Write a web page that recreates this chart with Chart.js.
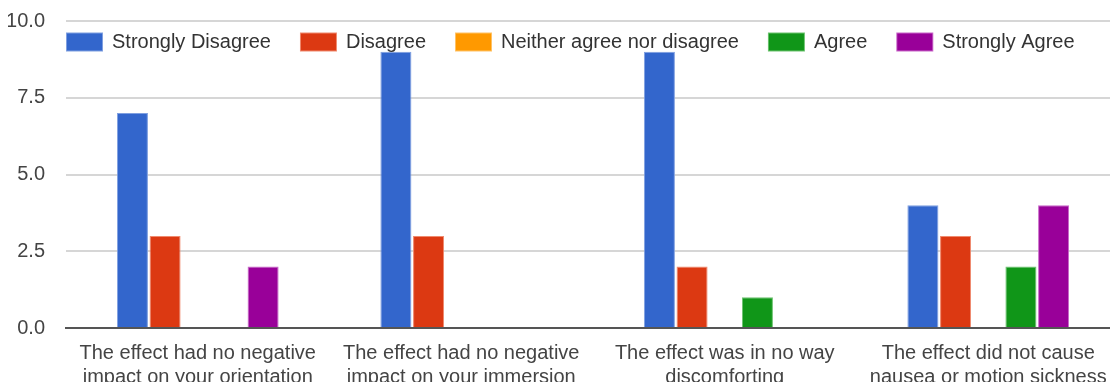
<!DOCTYPE html>
<html>
<head>
<meta charset="utf-8">
<script src="https://cdn.jsdelivr.net/npm/chart.js@4"></script>
<style>
  html, body { margin: 0; padding: 0; background: #fff; overflow: hidden; }
  #wrap { width: 1110px; height: 382px; overflow: hidden; position: relative; }
  canvas { display: block; }
</style>
</head>
<body>
<div id="wrap"><canvas id="c" width="1120" height="420"></canvas></div>
<script>
// Survey statements (x axis), two lines each
const categories = [
  ['The effect had no negative', 'impact on your orientation'],
  ['The effect had no negative', 'impact on your immersion'],
  ['The effect was in no way', 'discomforting'],
  ['The effect did not cause', 'nausea or motion sickness']
];

// Response counts per answer option
const stronglyDisagree = [7, 9, 9, 4];
const disagree         = [3, 3, 2, 3];
const neither          = [0, 0, 0, 0];
const agree            = [0, 0, 1, 2];
const stronglyAgree    = [2, 0, 0, 4];

const seriesLabels = ['Strongly Disagree', 'Disagree', 'Neither agree nor disagree', 'Agree', 'Strongly Agree'];
const yTicks = [0, 2.5, 5, 7.5, 10];

const fills   = ['#3366cc', '#dc3912', '#ff9900', '#109618', '#990099'];
const borders = ['#7f9fe0', '#f08a6e', '#ffc266', '#6cc36f', '#c866c8'];

const seriesValues = [stronglyDisagree, disagree, neither, agree, stronglyAgree];

const FONT = 'Arial, "Liberation Sans", sans-serif';

const datasets = seriesValues.map((vals, i) => ({
  label: seriesLabels[i],
  data: vals,
  backgroundColor: fills[i],
  borderColor: borders[i],
  borderWidth: 1,
  borderSkipped: 'bottom',
  categoryPercentage: 0.62,
  barPercentage: 0.95
}));

// Single-row legend drawn inside the plot, just under the top gridline
const inlineLegend = {
  id: 'inlineLegend',
  afterDatasetsDraw(chart) {
    const { ctx, chartArea } = chart;
    const boxW = 37, boxH = 19, textGap = 9, itemGap = 29;
    const rowMid = chartArea.top + 21;
    ctx.save();
    ctx.font = '20px ' + FONT;
    ctx.textBaseline = 'middle';
    ctx.textAlign = 'left';
    let x = chartArea.left;
    chart.data.datasets.forEach(ds => {
      ctx.fillStyle = ds.borderColor;
      ctx.fillRect(x, rowMid - boxH / 2, boxW, boxH);
      ctx.fillStyle = ds.backgroundColor;
      ctx.fillRect(x + 1, rowMid - boxH / 2 + 1, boxW - 2, boxH - 2);
      ctx.fillStyle = '#333';
      const tx = x + boxW + textGap;
      ctx.fillText(ds.label, tx, rowMid);
      x = tx + ctx.measureText(ds.label).width + itemGap;
    });
    ctx.restore();
  }
};

Chart.defaults.font.family = FONT;
Chart.defaults.color = '#444';

new Chart(document.getElementById('c'), {
  type: 'bar',
  data: { labels: categories, datasets },
  plugins: [inlineLegend],
  options: {
    responsive: false,
    animation: false,
    layout: { padding: { left: 8, top: 21, right: 0, bottom: 18 } },
    plugins: {
      tooltip: { enabled: false },
      legend: { display: false }
    },
    scales: {
      x: {
        grid: { display: false, drawTicks: false },
        border: { display: true, color: '#555', width: 2 },
        ticks: {
          color: '#444',
          padding: 13,
          maxRotation: 0,
          font: { size: 20, lineHeight: 1.2 }
        }
      },
      y: {
        min: 0,
        max: 10,
        afterBuildTicks(scale) { scale.ticks = yTicks.map(v => ({ value: v })); },
        afterFit(scale) {
          scale.width = 58;
          scale.paddingTop = 0;
          scale.paddingBottom = 0;
        },
        grid: { color: '#d6d6d6', lineWidth: 2, drawTicks: false },
        border: { display: false },
        ticks: {
          color: '#444',
          padding: 21,
          font: { size: 20 },
          callback: v => Number(v).toFixed(1)
        }
      }
    }
  }
});
</script>
</body>
</html>
